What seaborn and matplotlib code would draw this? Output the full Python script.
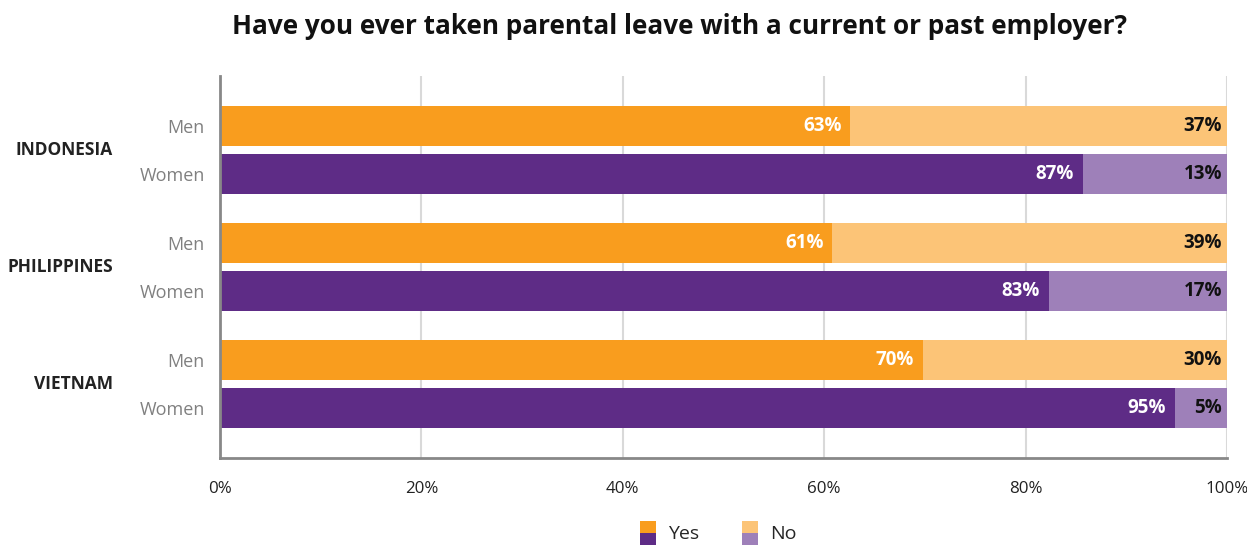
import numpy as np
import pandas as pd
import seaborn as sns
import matplotlib.pyplot as plt
import matplotlib.ticker as mtick
from matplotlib.legend_handler import HandlerBase
from matplotlib.patches import Patch, Rectangle
from matplotlib.transforms import blended_transform_factory

# data
countries = ['INDONESIA', 'PHILIPPINES', 'VIETNAM']
genders = ['Men', 'Women']
men_yes = [62.6, 60.8, 69.8]        # bar lengths as drawn
women_yes = [85.7, 82.3, 94.8]
men_yes_lbl = [63, 61, 70]          # printed labels
men_no_lbl = [37, 39, 30]
women_yes_lbl = [87, 83, 95]
women_no_lbl = [13, 17, 5]

yes_colors = {'Men': '#F99D1E', 'Women': '#5E2C86'}
no_colors = {'Men': '#FCC477', 'Women': '#9E80B9'}

df = pd.DataFrame({
    'country': countries * 2,
    'gender': ['Men'] * 3 + ['Women'] * 3,
    'yes': men_yes + women_yes,
    'total': [100] * 6,
})

sns.set_style('white')
plt.rcParams['font.family'] = ['Open Sans', 'DejaVu Sans']

fig = plt.figure(figsize=(12.47, 5.49), dpi=100)
ax = fig.add_axes([220 / 1247, 91 / 549, 1007 / 1247, 382 / 549])

common = dict(y='country', hue='gender', order=countries, hue_order=genders, orient='h',
              width=0.82, gap=0.167, dodge=True, errorbar=None, saturation=1,
              legend=False, ax=ax, zorder=2, linewidth=0)
sns.barplot(data=df, x='total', palette=no_colors, **common)
sns.barplot(data=df, x='yes', palette=yes_colors, **common)

ax.set_xlim(0, 100)
ax.set_ylim(2.632, -0.632)
ax.set_xlabel('')
ax.set_ylabel('')

# value labels
yes_lbls = [men_yes_lbl, women_yes_lbl]
no_lbls = [men_no_lbl, women_no_lbl]
for k in range(2):
    for p, v in zip(ax.containers[2 + k], yes_lbls[k]):
        ax.annotate(f'{v}%', (p.get_width(), p.get_y() + p.get_height() / 2),
                    xytext=(-6.3, 0), textcoords='offset points', ha='right', va='center',
                    color='white', fontsize=13.5, fontweight='bold', zorder=3)
    for p, v in zip(ax.containers[k], no_lbls[k]):
        ax.annotate(f'{v}%', (p.get_width(), p.get_y() + p.get_height() / 2),
                    xytext=(-3.5, 0), textcoords='offset points', ha='right', va='center',
                    color='#111111', fontsize=13.5, fontweight='bold', zorder=3)

# Men / Women tick labels at bar centres
ticks, tlabels = [], []
for k, g in enumerate(genders):
    for p in ax.containers[2 + k]:
        ticks.append(p.get_y() + p.get_height() / 2)
        tlabels.append(g)
ax.set_yticks(ticks)
ax.set_yticklabels(tlabels, color='#808080', fontsize=13)
ax.tick_params(axis='y', length=0, pad=11)

# country labels
trans = blended_transform_factory(fig.transFigure, ax.transData)
for i, c in enumerate(countries):
    ax.text(113 / 1247, i, c, transform=trans, ha='right', va='center',
            fontsize=12.5, fontweight='bold', color='#222222')

ax.xaxis.set_major_locator(mtick.MultipleLocator(20))
ax.xaxis.set_major_formatter(mtick.PercentFormatter(100, decimals=0))
ax.tick_params(axis='x', length=4, width=1.5, color='#d9d9d9', pad=12.5,
               labelsize=12.2, labelcolor='#222222')
ax.grid(axis='x', color='#d9d9d9', lw=1.5, zorder=0)
ax.set_axisbelow(True)
sns.despine(ax=ax)
for s in ['left', 'bottom']:
    ax.spines[s].set_color('#888888')
    ax.spines[s].set_linewidth(2)
    ax.spines[s].set_zorder(4)

fig.text(680 / 1247, 1 - 34 / 549, 'Have you ever taken parental leave with a current or past employer?',
         ha='center', va='baseline', fontsize=18.8, fontweight='bold', color='#111111')


# legend with split swatches (light/dark per answer)
class SplitHandler(HandlerBase):
    def __init__(self, top, bottom):
        super().__init__()
        self.top, self.bottom = top, bottom

    def create_artists(self, legend, orig_handle, xdescent, ydescent, width, height, fontsize, trans):
        x0, y0 = -xdescent, -ydescent
        r1 = Rectangle((x0, y0 + height / 2), width, height / 2, facecolor=self.top, lw=0, transform=trans)
        r2 = Rectangle((x0, y0), width, height / 2, facecolor=self.bottom, lw=0, transform=trans)
        return [r1, r2]


h_yes = Patch(label='Yes')
h_no = Patch(label='No')
fig.legend(handles=[h_yes, h_no], loc='center', bbox_to_anchor=(718 / 1247, 1 - 533 / 549),
           ncol=2, frameon=False, fontsize=14, handlelength=0.82, handleheight=1.55,
           handletextpad=0.62, columnspacing=2.2,
           handler_map={h_yes: SplitHandler(yes_colors['Men'], yes_colors['Women']),
                        h_no: SplitHandler(no_colors['Men'], no_colors['Women'])})

fig.savefig('out.png', dpi=100)
